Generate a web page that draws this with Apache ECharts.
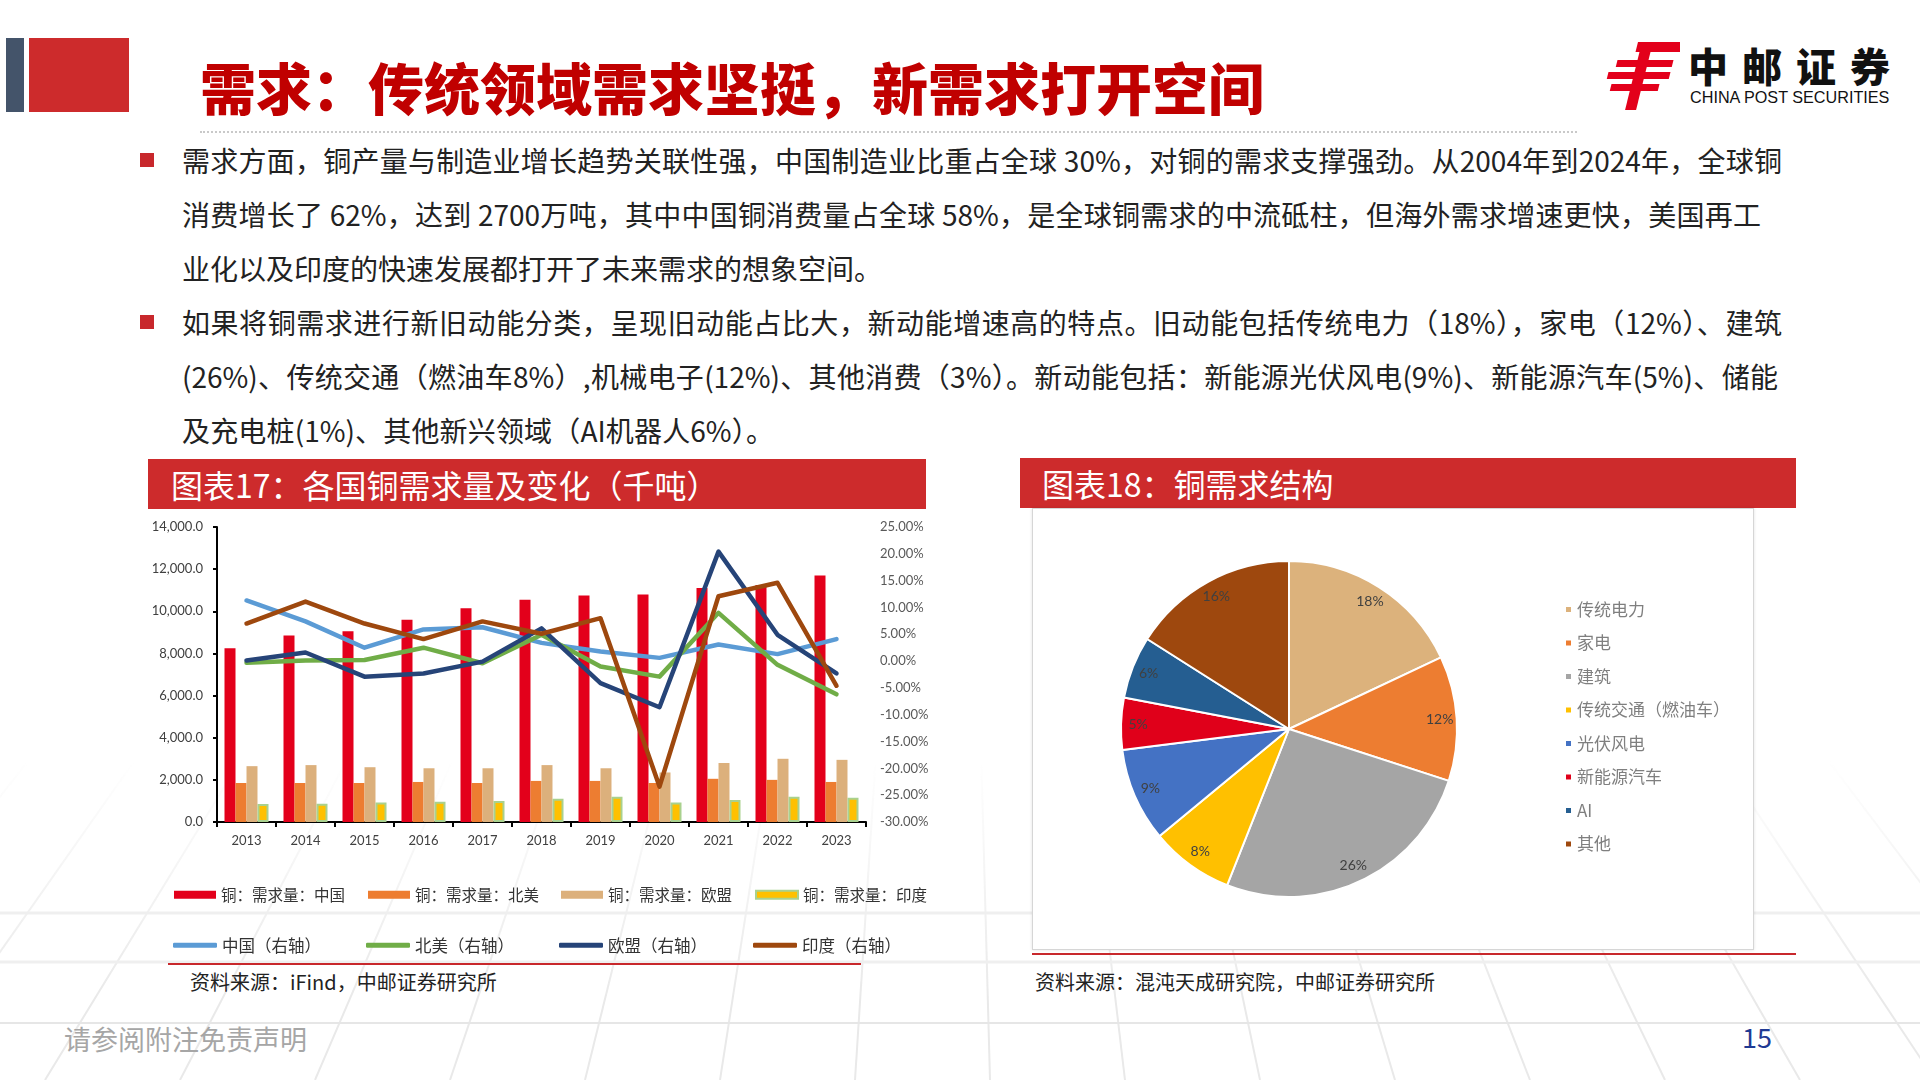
<!DOCTYPE html>
<html>
<head>
<meta charset="utf-8">
<script src="https://cdn.jsdelivr.net/npm/echarts@6/dist/echarts.min.js"></script>
<style>
  html, body { margin:0; padding:0; }
  body { width:1920px; height:1080px; position:relative; overflow:hidden; background:#fff;
         font-family:"Noto Sans CJK SC","Noto Sans",sans-serif; }
  .abs { position:absolute; }
  .para { position:absolute; left:182px; font-size:28px; color:#222; white-space:nowrap; line-height:40px; }
  .just { text-align:justify; text-align-last:justify; white-space:normal; }
  .bullet { position:absolute; left:140px; width:14px; height:14px; background:#c8282c; }
  .hdr { position:absolute; height:50px; background:#cd2b2c; color:#fff; font-size:32px; line-height:50px; }
  .src { position:absolute; font-size:20px; color:#222; line-height:24px; }
</style>
</head>
<body>
<!-- faint background perspective lines -->
<svg class="abs" style="left:0;top:0;" width="1920" height="1080">
  <defs>
    <linearGradient id="fade" x1="0" y1="0" x2="0" y2="1" gradientUnits="userSpaceOnUse" x2u="0">
      <stop offset="0" stop-color="#fff" stop-opacity="0"/>
    </linearGradient>
    <linearGradient id="fg" x1="0" y1="760" x2="0" y2="1000" gradientUnits="userSpaceOnUse">
      <stop offset="0" stop-color="#fff" stop-opacity="0"/>
      <stop offset="1" stop-color="#fff" stop-opacity="1"/>
    </linearGradient>
    <mask id="m"><rect x="0" y="0" width="1920" height="1080" fill="url(#fg)"/></mask>
  </defs>
  <g mask="url(#m)" stroke="#e9e9e9" stroke-width="2" fill="none" id="bglines"></g>
  <g stroke="#efefef" stroke-width="3">
    <line x1="0" y1="913" x2="1920" y2="913"/>
    <line x1="0" y1="962" x2="1920" y2="962"/>
  </g>
</svg>

<!-- decorative blocks -->
<div class="abs" style="left:6px;top:38px;width:18px;height:74px;background:#44546a;"></div>
<div class="abs" style="left:29px;top:38px;width:100px;height:74px;background:#cd2b2c;"></div>
<div class="abs" style="left:200px;top:54px;font-size:56px;line-height:64px;font-weight:900;color:#c00000;white-space:nowrap;">需求：传统领域需求坚挺，新需求打开空间</div>
<div class="abs" style="left:200px;top:131px;width:1377px;border-top:2px dotted #c9c9c9;"></div>

<!-- logo -->
<svg class="abs" style="left:1600px;top:42px;" width="80" height="70" viewBox="0 0 80 70">
  <g fill="#e3001b" transform="skewX(-14) translate(16,0)">
    <rect x="22" y="0" width="46" height="10"/>
    <rect x="6" y="18" width="56" height="7"/>
    <rect x="0" y="30" width="62" height="7"/>
    <rect x="6" y="42" width="48" height="7"/>
    <rect x="26" y="8" width="11" height="60"/>
  </g>
</svg>
<div class="abs" style="left:1688px;top:40px;font-size:40px;line-height:50px;font-weight:900;color:#111;letter-spacing:14px;white-space:nowrap;">中邮证券</div>
<div class="abs" style="left:1690px;top:88px;font-size:16.2px;line-height:18px;color:#111;font-family:'Liberation Sans',Arial,sans-serif;white-space:nowrap;">CHINA POST SECURITIES</div>

<!-- paragraphs -->
<div class="bullet" style="top:153px;"></div>
<div class="para just" style="top:140px;width:1600px;">需求方面，铜产量与制造业增长趋势关联性强，中国制造业比重占全球 30%，对铜的需求支撑强劲。从2004年到2024年，全球铜</div>
<div class="para just" style="top:194px;width:1579px;">消费增长了 62%，达到 2700万吨，其中中国铜消费量占全球 58%，是全球铜需求的中流砥柱，但海外需求增速更快，美国再工</div>
<div class="para" style="top:248px;">业化以及印度的快速发展都打开了未来需求的想象空间。</div>
<div class="bullet" style="top:315px;"></div>
<div class="para just" style="top:302px;width:1600px;">如果将铜需求进行新旧动能分类，呈现旧动能占比大，新动能增速高的特点。旧动能包括传统电力（18%），家电（12%）、建筑</div>
<div class="para just" style="top:356px;width:1596px;">(26%)、传统交通（燃油车8%）,机械电子(12%)、其他消费（3%）。新动能包括：新能源光伏风电(9%)、新能源汽车(5%)、储能</div>
<div class="para just" style="top:410px;width:592px;">及充电桩(1%)、其他新兴领域（AI机器人6%）。</div>

<!-- chart headers -->
<div class="hdr" style="left:148px;top:459px;width:778px;"><span style="margin-left:23px;">图表17：各国铜需求量及变化（千吨）</span></div>
<div class="hdr" style="left:1020px;top:458px;width:776px;"><span style="margin-left:22px;">图表18：铜需求结构</span></div>

<!-- pie box -->
<div class="abs" style="left:1032px;top:508px;width:720px;height:440px;border:1px solid #d6d6d6;box-shadow:0 0 3px rgba(0,0,0,0.12);background:#fff;"></div>
<div class="abs" style="left:1032px;top:953px;width:764px;height:2px;background:#c8282c;"></div>
<div class="abs" style="left:168px;top:963px;width:693px;height:2px;background:#c8282c;"></div>

<div class="src" style="left:190px;top:970px;">资料来源：iFind，中邮证券研究所</div>
<div class="src" style="left:1035px;top:970px;">资料来源：混沌天成研究院，中邮证券研究所</div>

<!-- footer -->
<div class="abs" style="left:0;top:1022px;width:1920px;height:2px;background:#e6e6e6;"></div>
<div class="abs" style="left:64px;top:1023px;font-size:27px;line-height:32px;color:#a6a6a6;">请参阅附注免责声明</div>
<div class="abs" style="left:1742px;top:1020px;font-size:27px;line-height:34px;color:#1f3a93;">15</div>

<div id="chart" class="abs" style="left:0;top:0;width:1920px;height:1080px;z-index:5;"></div>

<script>
// decorative background lines (not data)
(function () {
  const g = document.getElementById('bglines');
  const ns = 'http://www.w3.org/2000/svg';
  for (let bx = -900; bx <= 2800; bx += 135) {
    const l = document.createElementNS(ns, 'line');
    l.setAttribute('x1', 950); l.setAttribute('y1', -400);
    l.setAttribute('x2', bx); l.setAttribute('y2', 1080);
    g.appendChild(l);
  }
})();

// ---------- data ----------
const years = ['2013','2014','2015','2016','2017','2018','2019','2020','2021','2022','2023'];
const chinaDemand = [8250, 8850, 9050, 9600, 10150, 10550, 10750, 10800, 11100, 11250, 11700];
const naDemand    = [1850, 1850, 1850, 1900, 1850, 1950, 1950, 1850, 2050, 2000, 1900];
const euDemand    = [2650, 2700, 2600, 2550, 2550, 2700, 2550, 2350, 2800, 3000, 2950];
const indiaDemand = [850, 870, 930, 960, 1000, 1100, 1200, 930, 1040, 1200, 1150];
const chinaYoY = [11.3, 7.4, 2.5, 5.9, 6.3, 3.4, 1.8, 0.6, 3.1, 1.3, 4.1];
const naYoY    = [-0.3, 0.1, 0.2, 2.5, -0.4, 4.9, -1.0, -2.9, 9.0, -0.7, -6.2];
const euYoY    = [0.1, 1.6, -2.9, -2.3, -0.1, 6.1, -4.1, -8.6, 20.4, 4.9, -2.3];
const indiaYoY = [7.0, 11.1, 7.0, 4.1, 7.4, 5.1, 8.0, -23.4, 12.1, 14.6, -4.6];

const barNames  = ['铜：需求量：中国','铜：需求量：北美','铜：需求量：欧盟','铜：需求量：印度'];
const lineNames = ['中国（右轴）','北美（右轴）','欧盟（右轴）','印度（右轴）'];

const pieNames  = ['传统电力','家电','建筑','传统交通（燃油车）','光伏风电','新能源汽车','AI','其他'];
const pieValues = [18, 12, 26, 8, 9, 5, 6, 16];
const pieColors = ['#dcb27c','#ed7d31','#a5a5a5','#ffc000','#4472c4','#e0001a','#255e91','#9e480e'];

// ---------- chart ----------
const chart = echarts.init(document.getElementById('chart'), null, {renderer:'canvas'});
const axisFont = 'Lato, "Liberation Sans", sans-serif';
const cjk = '"Noto Sans CJK SC", sans-serif';

const barColors = ['#e3001b', '#ed7d31', '#dcb07c', '#ffc000'];
const lineColors = ['#5b9bd5', '#70ad47', '#264478', '#9e480e'];
const barData = [chinaDemand, naDemand, euDemand, indiaDemand];
const lineData = [chinaYoY, naYoY, euYoY, indiaYoY];

const series = [];
barNames.forEach((n, i) => {
  series.push({
    name: n, type: 'bar', xAxisIndex: 0, yAxisIndex: 0,
    data: barData[i], barWidth: 11, barGap: '0%',
    itemStyle: i === 3 ? {color: barColors[i], borderColor: '#a9d18e', borderWidth: 2}
                       : {color: barColors[i]},
    emphasis: {disabled: true}
  });
});
lineNames.forEach((n, i) => {
  series.push({
    name: n, type: 'line', xAxisIndex: 0, yAxisIndex: 1,
    data: lineData[i], symbol: 'none', smooth: false,
    lineStyle: {color: lineColors[i], width: 4.5, cap: 'round', join: 'round'},
    itemStyle: {color: lineColors[i]},
    emphasis: {disabled: true}
  });
});

series.push({
  name: 'pie', type: 'pie', center: [1289, 729], radius: 168, startAngle: 90, clockwise: true,
  data: pieNames.map((n, i) => ({name: n, value: pieValues[i], itemStyle: {color: pieColors[i]}})),
  itemStyle: {borderColor: '#fff', borderWidth: 2},
  label: {show: false}, labelLine: {show: false}, emphasis: {disabled: true}, silent: true
});
series.push({
  name: 'pieLabels', type: 'pie', center: [1289, 729], radius: [128, 168], startAngle: 90, clockwise: true,
  data: pieNames.map((n, i) => ({name: n, value: pieValues[i], itemStyle: {color: 'rgba(0,0,0,0)'}})),
  itemStyle: {borderWidth: 0},
  label: {show: true, position: 'inside', formatter: '{c}%', color: '#404040', fontSize: 14, fontFamily: axisFont},
  labelLine: {show: false}, emphasis: {disabled: true}, silent: true
});

// legends: one per item so each sits in its own column
const row1Left = [169, 363, 556, 750];
const row2Left = [168, 361, 554, 748];
const legends = [];
barNames.forEach((n, i) => legends.push({
  data: [n], left: row1Left[i], top: 882, icon: 'rect', itemWidth: 42, itemHeight: 8,
  textStyle: {fontSize: 15.5, color: '#333', fontFamily: cjk}
}));
lineNames.forEach((n, i) => legends.push({
  data: [n], left: row2Left[i], top: 932, icon: 'roundRect', itemWidth: 44, itemHeight: 5,
  textStyle: {fontSize: 16.5, color: '#333', fontFamily: cjk}
}));
legends.push({
  data: pieNames, left: 1559, top: 596, orient: 'vertical', icon: 'rect',
  itemWidth: 7, itemHeight: 7, itemGap: 16.5,
  textStyle: {fontSize: 17, color: '#7f7f7f', fontFamily: cjk}
});

const option = {
  animation: false,
  grid: {left: 217, right: 1054, top: 527, bottom: 258, containLabel: false},
  xAxis: {
    type: 'category', data: years,
    axisLine: {lineStyle: {color: '#000', width: 2}},
    axisTick: {show: true, length: 5, lineStyle: {color: '#000', width: 2}},
    axisLabel: {color: '#404040', fontSize: 13, fontFamily: axisFont, margin: 12}
  },
  yAxis: [
    {
      type: 'value', min: 0, max: 14000, interval: 2000,
      axisLine: {show: true, lineStyle: {color: '#000', width: 2}},
      axisTick: {show: true, length: 4, lineStyle: {color: '#000', width: 2}},
      splitLine: {show: false},
      axisLabel: {color: '#404040', fontSize: 13, fontFamily: axisFont, margin: 14,
                  formatter: v => v.toLocaleString('en-US', {minimumFractionDigits: 1, maximumFractionDigits: 1})}
    },
    {
      type: 'value', min: -30, max: 25, interval: 5, position: 'right', alignTicks: false,
      axisLine: {show: false}, axisTick: {show: false}, splitLine: {show: false},
      axisLabel: {color: '#595959', fontSize: 13, fontFamily: axisFont, margin: 14,
                  formatter: v => v.toFixed(2) + '%'}
    }
  ],
  legend: legends,
  series: series
};
chart.setOption(option);
</script>
</body>
</html>
